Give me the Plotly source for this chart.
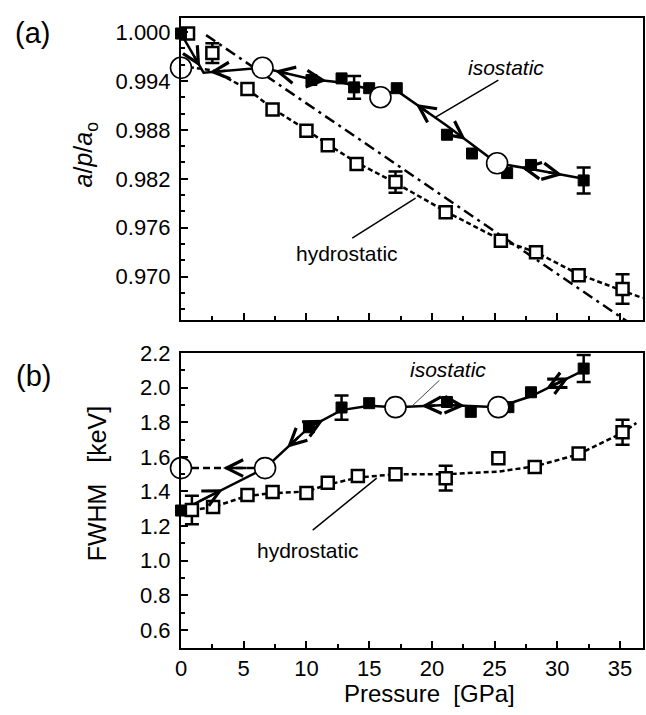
import numpy as np
import plotly.graph_objects as go

# ---------------- data: panel (a) ----------------
hyd_a_x = [0.56, 2.5, 5.3, 7.3, 10.0, 11.7, 14.0, 17.1, 21.1, 25.5, 28.3, 31.7, 35.2]
hyd_a_y = [0.9998, 0.9974, 0.9930, 0.9905, 0.9879, 0.9861, 0.9838, 0.9816, 0.9779, 0.9744, 0.9730, 0.9702, 0.9685]
hyd_a_err = [0, 0.0012, 0, 0, 0, 0, 0, 0.0013, 0, 0, 0, 0, 0.0018]

fit_a_x = [0, 2.5, 5.3, 7.3, 10.0, 11.7, 14.0, 17.1, 21.1, 25.5, 28.3, 31.7, 35.2, 36.8]
fit_a_y = [0.9958, 0.9953, 0.9930, 0.9906, 0.9880, 0.9862, 0.9840, 0.9815, 0.9780, 0.9745, 0.9730, 0.9703, 0.9683, 0.9674]

lin_a_x = [2.0, 35.6]
lin_a_y = [0.9996, 0.9645]

iso_a_x = [0, 10.4, 12.8, 13.8, 15.0, 17.2, 21.2, 23.2, 26.0, 27.9, 32.1]
iso_a_y = [0.9998, 0.9941, 0.9943, 0.9932, 0.9931, 0.9931, 0.9874, 0.9851, 0.9827, 0.9837, 0.9818]
iso_a_err = [0, 0, 0, 0.0014, 0, 0, 0, 0, 0, 0, 0.0016]

circ_a_x = [0, 6.5, 15.9, 25.2]
circ_a_y = [0.9956, 0.9956, 0.9920, 0.9839]

path_a_x = [0, 1.8, 6.5, 10.4, 12.8, 15.0, 15.9, 17.2, 21.2, 23.2, 25.2, 27.9, 32.1]
path_a_y = [0.9998, 0.9950, 0.9956, 0.9942, 0.9938, 0.9930, 0.9922, 0.9928, 0.9885, 0.9862, 0.9839, 0.9832, 0.9820]
# arrows along path (from index, to index, fraction where head sits)
arrows_a = [(0, 1, 0.85), (2, 1, 0.9), (3, 2, 0.75), (3, 4, 0.5), (8, 7, 0.62),
            (8, 9, 0.75), (11, 10, 0.3), (11, 12, 0.6)]

# ---------------- data: panel (b) ----------------
hyd_b_x = [0.87, 2.56, 5.3, 7.3, 10.0, 11.7, 14.1, 17.1, 21.1, 25.3, 28.2, 31.7, 35.2]
hyd_b_y = [1.293, 1.31, 1.379, 1.397, 1.391, 1.45, 1.489, 1.50, 1.477, 1.592, 1.541, 1.62, 1.742]
hyd_b_err = [0.082, 0, 0, 0, 0, 0, 0, 0, 0.072, 0, 0, 0, 0.072]

fit_b_x = [0.87, 2.56, 5.3, 7.3, 10.0, 11.7, 14.1, 17.1, 21.1, 25.3, 28.2, 31.7, 35.2, 36.3]
fit_b_y = [1.293, 1.31, 1.375, 1.39, 1.40, 1.44, 1.48, 1.50, 1.50, 1.515, 1.545, 1.615, 1.74, 1.795]

iso_b_x = [0, 10.2, 12.8, 15.0, 21.2, 23.1, 26.1, 27.9, 32.1]
iso_b_y = [1.29, 1.771, 1.885, 1.91, 1.917, 1.86, 1.887, 1.973, 2.11]
iso_b_err = [0, 0, 0.07, 0, 0, 0, 0, 0, 0.078]

circ_b_x = [0, 6.7, 17.1, 25.3]
circ_b_y = [1.535, 1.535, 1.887, 1.887]

path_b_x = [0, 6.7, 10.2, 12.8, 15.0, 17.1, 21.2, 25.3, 27.9, 32.1]
path_b_y = [1.29, 1.535, 1.77, 1.87, 1.895, 1.887, 1.90, 1.887, 1.95, 2.10]
arrows_b = [(0, 1, 0.5), (2, 1, 0.5), (2, 3, 0.45), (6, 5, 0.5), (6, 7, 0.35),
            (8, 9, 0.72), (9, 8, 0.72)]
# dashed return line between the first two circles
arrows_b_dash = [(1, 0, 0.5)]

FONT = "Liberation Sans, Arial, sans-serif"
fig = go.Figure()


def add_panel(xa, ya, hx, hy, herr, fx, fy, ix, iy, ierr, cx, cy, px, py):
    # hydrostatic fit
    fig.add_trace(go.Scatter(x=fx, y=fy, mode="lines", xaxis=xa, yaxis=ya,
                             line=dict(color="black", width=2.5, dash="5px,3px")))
    # isostatic path
    fig.add_trace(go.Scatter(x=px, y=py, mode="lines", xaxis=xa, yaxis=ya,
                             line=dict(color="black", width=2.5)))
    # error bars
    for xs, ys, es in ((hx, hy, herr), (ix, iy, ierr)):
        xs, ys, es = np.array(xs), np.array(ys), np.array(es)
        m = es > 0
        fig.add_trace(go.Scatter(x=xs[m], y=ys[m], mode="markers", xaxis=xa, yaxis=ya,
                                 marker=dict(size=1, color="rgba(0,0,0,0)"),
                                 error_y=dict(type="data", array=es[m], color="black",
                                              thickness=2.5, width=7)))
    # hydrostatic squares
    fig.add_trace(go.Scatter(x=hx, y=hy, mode="markers", xaxis=xa, yaxis=ya, cliponaxis=False,
                             marker=dict(symbol="square", size=12, color="white",
                                         line=dict(color="black", width=2.5))))
    # isostatic filled squares
    fig.add_trace(go.Scatter(x=ix, y=iy, mode="markers", xaxis=xa, yaxis=ya, cliponaxis=False,
                             marker=dict(symbol="square", size=11, color="black",
                                         line=dict(color="black", width=1))))
    # circles
    fig.add_trace(go.Scatter(x=cx, y=cy, mode="markers", xaxis=xa, yaxis=ya, cliponaxis=False,
                             marker=dict(symbol="circle", size=21, color="white",
                                         line=dict(color="black", width=1.6))))


# panel (a) extra: straight dash-dot line
fig.add_trace(go.Scatter(x=lin_a_x, y=lin_a_y, mode="lines", xaxis="x", yaxis="y",
                         line=dict(color="black", width=2.5, dash="11px,5px,3px,5px")))
# panel (b) extra: dashed line between circles
fig.add_trace(go.Scatter(x=circ_b_x[:2], y=circ_b_y[:2], mode="lines", xaxis="x2", yaxis="y2",
                         line=dict(color="black", width=2.5, dash="7px,4px")))

add_panel("x", "y", hyd_a_x, hyd_a_y, hyd_a_err, fit_a_x, fit_a_y, iso_a_x, iso_a_y,
          iso_a_err, circ_a_x, circ_a_y, path_a_x, path_a_y)
add_panel("x2", "y2", hyd_b_x, hyd_b_y, hyd_b_err, fit_b_x, fit_b_y, iso_b_x, iso_b_y,
          iso_b_err, circ_b_x, circ_b_y, path_b_x, path_b_y)

annotations = []


def arrow(xr, yr, x0, y0, x1, y1, frac):
    hx_ = x0 + frac * (x1 - x0)
    hy_ = y0 + frac * (y1 - y0)
    tx_ = x0 + (frac - 0.3) * (x1 - x0) if frac > 0.3 else x0
    ty_ = y0 + (frac - 0.3) * (y1 - y0) if frac > 0.3 else y0
    annotations.append(dict(x=hx_, y=hy_, ax=tx_, ay=ty_, xref=xr, yref=yr, axref=xr, ayref=yr,
                            text="", showarrow=True, arrowhead=5, arrowsize=1.3,
                            arrowwidth=2.5, arrowcolor="black"))


for i, j, f in arrows_a:
    arrow("x", "y", path_a_x[i], path_a_y[i], path_a_x[j], path_a_y[j], f)
for i, j, f in arrows_b:
    arrow("x2", "y2", path_b_x[i], path_b_y[i], path_b_x[j], path_b_y[j], f)
for i, j, f in arrows_b_dash:
    arrow("x2", "y2", circ_b_x[i], circ_b_y[i], circ_b_x[j], circ_b_y[j], f)

# text labels
annotations += [
    dict(x=25.9, y=0.9956, xref="x", yref="y", text="<i>isostatic</i>", showarrow=False,
         font=dict(size=21, family=FONT, color="black")),
    dict(x=13.2, y=0.9729, xref="x", yref="y", text="hydrostatic", showarrow=False,
         font=dict(size=21, family=FONT, color="black")),
    dict(x=21.3, y=2.105, xref="x2", yref="y2", text="<i>isostatic</i>", showarrow=False,
         font=dict(size=21, family=FONT, color="black")),
    dict(x=10.1, y=1.062, xref="x2", yref="y2", text="hydrostatic", showarrow=False,
         font=dict(size=21, family=FONT, color="black")),
    dict(x=-0.321, y=0.976, xref="paper", yref="paper", text="(a)", showarrow=False,
         font=dict(size=29, family=FONT, color="black"), xanchor="center", yanchor="middle"),
    dict(x=-0.319, y=0.4317, xref="paper", yref="paper", text="(b)", showarrow=False,
         font=dict(size=29, family=FONT, color="black"), xanchor="center", yanchor="middle"),
    dict(x=-0.207, y=0.7825, xref="paper", yref="paper",
         text="<i>a</i>/<i>p</i>/<i>a</i><sub>o</sub>", showarrow=False, textangle=-90,
         font=dict(size=25, family=FONT, color="black"), xanchor="center", yanchor="middle"),
    dict(x=-0.181, y=0.262, xref="paper", yref="paper", text="FWHM   [keV]",
         showarrow=False, textangle=-90,
         font=dict(size=25, family=FONT, color="black"), xanchor="center", yanchor="middle"),
    dict(x=0.537, y=-0.0715, xref="paper", yref="paper", text="Pressure  [GPa]",
         showarrow=False, font=dict(size=24, family=FONT, color="black"),
         xanchor="center", yanchor="middle"),
]

# leader lines
shapes = [
    dict(type="line", xref="x", yref="y", x0=25.3, y0=0.9941, x1=20.3, y1=0.98956,
         line=dict(color="black", width=1.5)),
    dict(type="line", xref="x", yref="y", x0=13.65, y0=0.97472, x1=18.7, y1=0.97962,
         line=dict(color="black", width=1.5)),
    dict(type="line", xref="x2", yref="y2", x0=20.6, y0=2.042, x1=18.4, y1=1.892,
         line=dict(color="#444", width=1)),
    dict(type="line", xref="x2", yref="y2", x0=10.5, y0=1.177, x1=15.6, y1=1.477,
         line=dict(color="black", width=1.5)),
]

axis_common = dict(showline=True, linewidth=2, linecolor="black", mirror=True,
                   ticks="inside", ticklen=7, tickwidth=1.5, tickcolor="black",
                   showgrid=False, zeroline=False,
                   tickfont=dict(size=22, family=FONT, color="black"))

fig.update_layout(
    width=646, height=715,
    margin=dict(l=181, r=1, t=18, b=67),
    paper_bgcolor="white", plot_bgcolor="white",
    showlegend=False,
    xaxis=dict(domain=[0, 1], anchor="y", range=[0, 36.83], dtick=5, tick0=0,
               showticklabels=False,
               minor=dict(ticks="inside", ticklen=4, dtick=2.5, tickcolor="black"),
               **axis_common),
    yaxis=dict(domain=[0.5206, 1], anchor="x", range=[0.9647, 1.0017], dtick=0.006,
               tick0=0.970, tickformat=".3f", ticklabelstandoff=4,
               minor=dict(ticks="inside", ticklen=4, dtick=0.002, tickcolor="black"),
               **axis_common),
    xaxis2=dict(domain=[0, 1], anchor="y2", range=[0, 36.83], dtick=5, tick0=0,
                ticklabelstandoff=0,
                minor=dict(ticks="inside", ticklen=4, dtick=2.5, tickcolor="black"),
                **axis_common),
    yaxis2=dict(domain=[0, 0.4683], anchor="x2", range=[0.496, 2.2], dtick=0.2, tick0=0.6,
                tickformat=".1f", ticklabelstandoff=4,
                minor=dict(ticks="inside", ticklen=4, dtick=0.1, tickcolor="black"),
                **axis_common),
    annotations=annotations,
    shapes=shapes,
)

fig.write_html("out.html")
